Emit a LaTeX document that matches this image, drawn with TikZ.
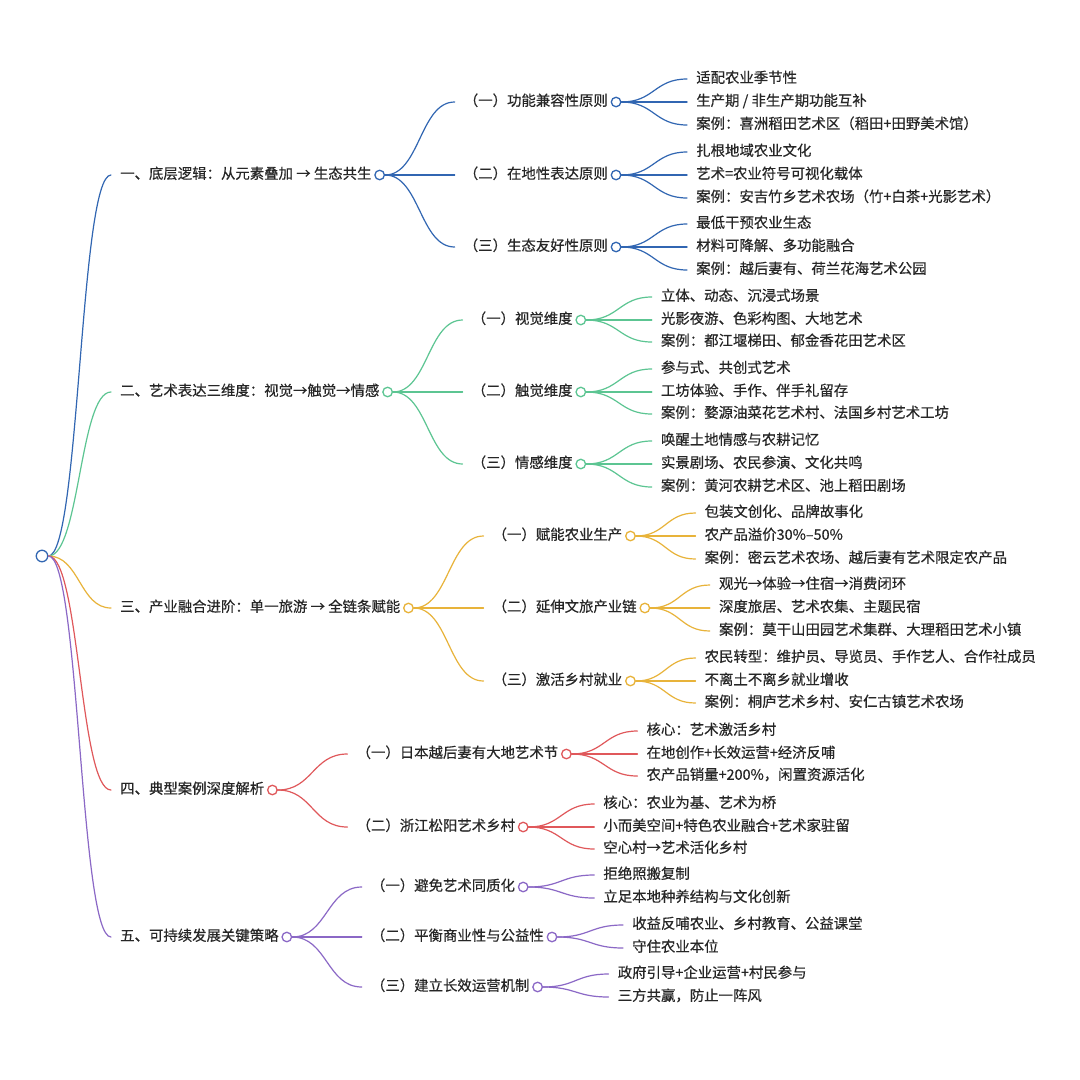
\documentclass[tikz,border=0pt]{standalone}
\usepackage{fontspec}
\setmainfont{Noto Sans CJK SC}[FakeBold=0.4]
\usetikzlibrary{calc}
\definecolor{cb}{HTML}{3166B2}
\definecolor{cg}{HTML}{5CC592}
\definecolor{co}{HTML}{E8B33A}
\definecolor{cr}{HTML}{E0585B}
\definecolor{cp}{HTML}{8B68C6}
\definecolor{txtc}{HTML}{262626}
\tikzset{
  txt/.style={anchor=west, inner sep=0pt, text=txtc, font=\fontsize{14.4}{17}\selectfont, text height=0.8em, text depth=0.05em},
  dot/.style={circle, draw=#1, fill=white, line width=1.3pt, minimum size=9.5pt, inner sep=0pt},
  ln/.style={draw=#1, line width=1.2pt, line cap=round},
}
% child text node: name, parent circle, dx, y, text
\newcommand\sub[5]{%
  \coordinate (#1x) at ([xshift=#3]#2.center);
  \node[txt] (#1) at (#1x |- 0,#4) {#5};}
% circle after a text node: name, text node, colour
\newcommand\dotat[3]{\node[dot=#3] (#1) at ([xshift=8pt]#2.east) {};}
% connector: colour, from circle, to text
\newcommand\mmline[3]{%
  \draw[ln=#1] let \p1=(#2.east), \p2=([xshift=-9pt]#3.west) in
    (\p1) .. controls ({(\x1+\x2)/2},\y1) and ({(\x1+\x2)/2},\y2) .. (\p2);}
\begin{document}
\begin{tikzpicture}[x=1pt,y=-1pt]
\useasboundingbox[fill=white] (0,0) rectangle (1080,1080);

\node[dot=cb, minimum size=11.5pt] (R) at (42,556) {};

% ===== Branch A (blue)
\node[txt] (A) at (120,175) {一、底层逻辑：从元素叠加 → 生态共生};
\dotat{Ac}{A}{cb}
\sub{A1}{Ac}{84pt}{102}{（一）功能兼容性原则}\dotat{A1c}{A1}{cb}
\sub{A2}{Ac}{84pt}{175}{（二）在地性表达原则}\dotat{A2c}{A2}{cb}
\sub{A3}{Ac}{84pt}{247}{（三）生态友好性原则}\dotat{A3c}{A3}{cb}
\sub{A1a}{A1c}{80pt}{79}{适配农业季节性}
\sub{A1b}{A1c}{80pt}{102}{生产期 / 非生产期功能互补}
\sub{A1d}{A1c}{80pt}{125}{案例：喜洲稻田艺术区（稻田+田野美术馆）}
\sub{A2a}{A2c}{80pt}{152}{扎根地域农业文化}
\sub{A2b}{A2c}{80pt}{175}{艺术=农业符号可视化载体}
\sub{A2d}{A2c}{80pt}{198}{案例：安吉竹乡艺术农场（竹+白茶+光影艺术）}
\sub{A3a}{A3c}{80pt}{224}{最低干预农业生态}
\sub{A3b}{A3c}{80pt}{247}{材料可降解、多功能融合}
\sub{A3d}{A3c}{80pt}{270}{案例：越后妻有、荷兰花海艺术公园}
\mmline{cb}{R}{A}
\mmline{cb}{Ac}{A1}\mmline{cb}{Ac}{A2}\mmline{cb}{Ac}{A3}
\mmline{cb}{A1c}{A1a}\mmline{cb}{A1c}{A1b}\mmline{cb}{A1c}{A1d}
\mmline{cb}{A2c}{A2a}\mmline{cb}{A2c}{A2b}\mmline{cb}{A2c}{A2d}
\mmline{cb}{A3c}{A3a}\mmline{cb}{A3c}{A3b}\mmline{cb}{A3c}{A3d}

% ===== Branch B (green)
\node[txt] (B) at (120,392) {二、艺术表达三维度：视觉→触觉→情感};
\dotat{Bc}{B}{cg}
\sub{B1}{Bc}{84pt}{320}{（一）视觉维度}\dotat{B1c}{B1}{cg}
\sub{B2}{Bc}{84pt}{392}{（二）触觉维度}\dotat{B2c}{B2}{cg}
\sub{B3}{Bc}{84pt}{464}{（三）情感维度}\dotat{B3c}{B3}{cg}
\sub{B1a}{B1c}{80pt}{297}{立体、动态、沉浸式场景}
\sub{B1b}{B1c}{80pt}{320}{光影夜游、色彩构图、大地艺术}
\sub{B1d}{B1c}{80pt}{342}{案例：都江堰梯田、郁金香花田艺术区}
\sub{B2a}{B2c}{80pt}{369}{参与式、共创式艺术}
\sub{B2b}{B2c}{80pt}{392}{工坊体验、手作、伴手礼留存}
\sub{B2d}{B2c}{80pt}{414}{案例：婺源油菜花艺术村、法国乡村艺术工坊}
\sub{B3a}{B3c}{80pt}{441}{唤醒土地情感与农耕记忆}
\sub{B3b}{B3c}{80pt}{464}{实景剧场、农民参演、文化共鸣}
\sub{B3d}{B3c}{80pt}{487}{案例：黄河农耕艺术区、池上稻田剧场}
\mmline{cg}{R}{B}
\mmline{cg}{Bc}{B1}\mmline{cg}{Bc}{B2}\mmline{cg}{Bc}{B3}
\mmline{cg}{B1c}{B1a}\mmline{cg}{B1c}{B1b}\mmline{cg}{B1c}{B1d}
\mmline{cg}{B2c}{B2a}\mmline{cg}{B2c}{B2b}\mmline{cg}{B2c}{B2d}
\mmline{cg}{B3c}{B3a}\mmline{cg}{B3c}{B3b}\mmline{cg}{B3c}{B3d}

% ===== Branch C (orange)
\node[txt] (C) at (120,608) {三、产业融合进阶：单一旅游 → 全链条赋能};
\dotat{Cc}{C}{co}
\sub{C1}{Cc}{84pt}{536}{（一）赋能农业生产}\dotat{C1c}{C1}{co}
\sub{C2}{Cc}{84pt}{608}{（二）延伸文旅产业链}\dotat{C2c}{C2}{co}
\sub{C3}{Cc}{84pt}{681}{（三）激活乡村就业}\dotat{C3c}{C3}{co}
\sub{C1a}{C1c}{74pt}{513}{包装文创化、品牌故事化}
\sub{C1b}{C1c}{74pt}{536}{农产品溢价30\%–50\%}
\sub{C1d}{C1c}{74pt}{559}{案例：密云艺术农场、越后妻有艺术限定农产品}
\sub{C2a}{C2c}{74pt}{585}{观光→体验→住宿→消费闭环}
\sub{C2b}{C2c}{74pt}{608}{深度旅居、艺术农集、主题民宿}
\sub{C2d}{C2c}{74pt}{631}{案例：莫干山田园艺术集群、大理稻田艺术小镇}
\sub{C3a}{C3c}{74pt}{658}{农民转型：维护员、导览员、手作艺人、合作社成员}
\sub{C3b}{C3c}{74pt}{681}{不离土不离乡就业增收}
\sub{C3d}{C3c}{74pt}{703}{案例：桐庐艺术乡村、安仁古镇艺术农场}
\mmline{co}{R}{C}
\mmline{co}{Cc}{C1}\mmline{co}{Cc}{C2}\mmline{co}{Cc}{C3}
\mmline{co}{C1c}{C1a}\mmline{co}{C1c}{C1b}\mmline{co}{C1c}{C1d}
\mmline{co}{C2c}{C2a}\mmline{co}{C2c}{C2b}\mmline{co}{C2c}{C2d}
\mmline{co}{C3c}{C3a}\mmline{co}{C3c}{C3b}\mmline{co}{C3c}{C3d}

% ===== Branch D (red)
\node[txt] (D) at (120,790) {四、典型案例深度解析};
\dotat{Dc}{D}{cr}
\sub{D1}{Dc}{84pt}{754}{（一）日本越后妻有大地艺术节}\dotat{D1c}{D1}{cr}
\sub{D2}{Dc}{84pt}{827}{（二）浙江松阳艺术乡村}\dotat{D2c}{D2}{cr}
\sub{D1a}{D1c}{80pt}{731}{核心：艺术激活乡村}
\sub{D1b}{D1c}{80pt}{754}{在地创作+长效运营+经济反哺}
\sub{D1d}{D1c}{80pt}{776}{农产品销量+200\%，闲置资源活化}
\sub{D2a}{D2c}{80pt}{804}{核心：农业为基、艺术为桥}
\sub{D2b}{D2c}{80pt}{827}{小而美空间+特色农业融合+艺术家驻留}
\sub{D2d}{D2c}{80pt}{849}{空心村→艺术活化乡村}
\mmline{cr}{R}{D}
\mmline{cr}{Dc}{D1}\mmline{cr}{Dc}{D2}
\mmline{cr}{D1c}{D1a}\mmline{cr}{D1c}{D1b}\mmline{cr}{D1c}{D1d}
\mmline{cr}{D2c}{D2a}\mmline{cr}{D2c}{D2b}\mmline{cr}{D2c}{D2d}

% ===== Branch E (purple)
\node[txt] (E) at (120,937) {五、可持续发展关键策略};
\dotat{Ec}{E}{cp}
\sub{E1}{Ec}{84pt}{887}{（一）避免艺术同质化}\dotat{E1c}{E1}{cp}
\sub{E2}{Ec}{84pt}{937}{（二）平衡商业性与公益性}\dotat{E2c}{E2}{cp}
\sub{E3}{Ec}{84pt}{987}{（三）建立长效运营机制}\dotat{E3c}{E3}{cp}
\sub{E1a}{E1c}{80pt}{875}{拒绝照搬复制}
\sub{E1b}{E1c}{80pt}{898}{立足本地种养结构与文化创新}
\sub{E2a}{E2c}{80pt}{925}{收益反哺农业、乡村教育、公益课堂}
\sub{E2b}{E2c}{80pt}{948}{守住农业本位}
\sub{E3a}{E3c}{80pt}{974}{政府引导+企业运营+村民参与}
\sub{E3b}{E3c}{80pt}{997}{三方共赢，防止一阵风}
\mmline{cp}{R}{E}
\mmline{cp}{Ec}{E1}\mmline{cp}{Ec}{E2}\mmline{cp}{Ec}{E3}
\mmline{cp}{E1c}{E1a}\mmline{cp}{E1c}{E1b}
\mmline{cp}{E2c}{E2a}\mmline{cp}{E2c}{E2b}
\mmline{cp}{E3c}{E3a}\mmline{cp}{E3c}{E3b}
\end{tikzpicture}
\end{document}
